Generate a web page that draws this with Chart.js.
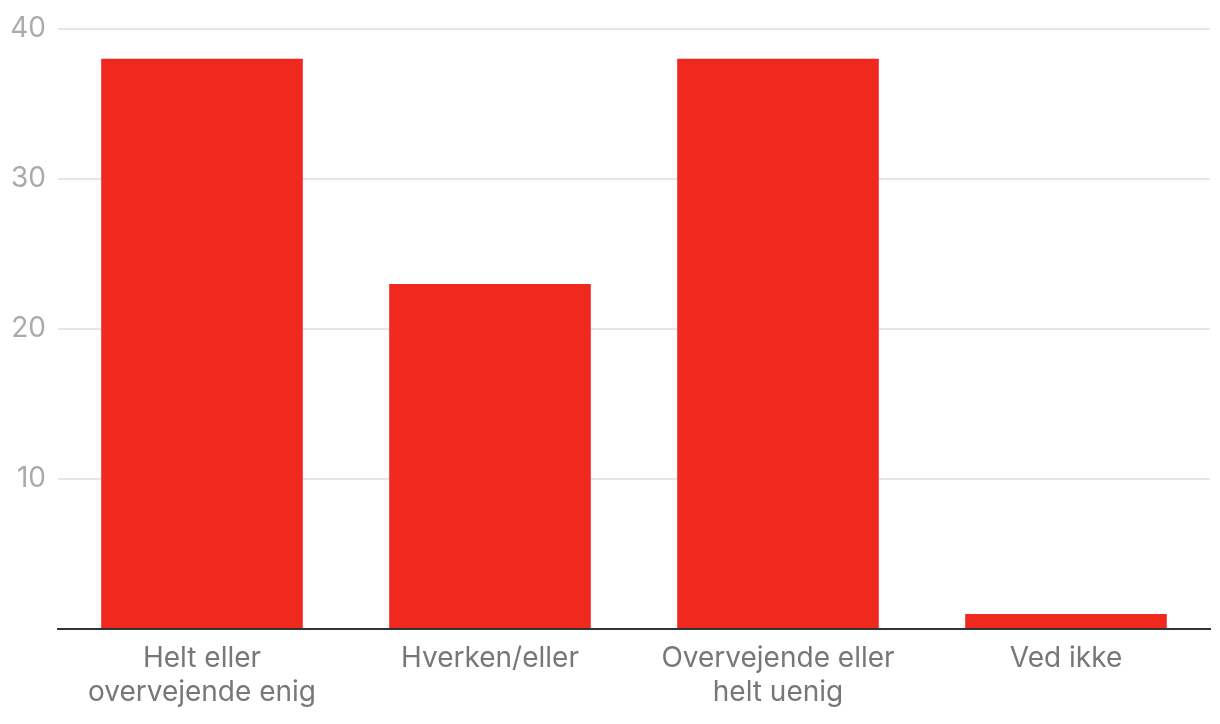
<!DOCTYPE html>
<html>
<head>
<meta charset="utf-8">
<script src="https://cdn.jsdelivr.net/npm/chart.js@4"></script>
<style>
  html, body { margin: 0; padding: 0; background: #fff; }
  #wrap { width: 1220px; height: 724px; }
</style>
</head>
<body>
<div id="wrap"><canvas id="chart" width="1220" height="724"></canvas></div>
<script>
// Categories and values
const categories = [
    ['Helt eller', 'overvejende enig'],
    'Hverken/eller',
    ['Overvejende eller', 'helt uenig'],
    'Ved ikke'
];
const shares = [38, 23, 38, 1];
const yTicks = [0, 10, 20, 30, 40];

const barColor = '#F0291F';

const ctx = document.getElementById('chart').getContext('2d');
new Chart(ctx, {
    type: 'bar',
    data: {
        labels: categories,
        datasets: [{
            data: shares,
            backgroundColor: barColor,
            barPercentage: 0.7,
            categoryPercentage: 1.0
        }]
    },
    options: {
        responsive: false,
        animation: false,
        layout: { padding: { top: 16, right: 10, bottom: 0, left: 0 } },
        plugins: { legend: { display: false }, tooltip: { enabled: false } },
        scales: {
            x: {
                grid: { display: false },
                border: { display: true, color: '#333333', width: 2 },
                ticks: {
                    color: '#777777',
                    font: { family: 'Inter', size: 28, lineHeight: 1.2 },
                    padding: 5,
                    maxRotation: 0
                },
                afterFit: scale => { scale.height = 95; }
            },
            y: {
                min: yTicks[0],
                max: yTicks[yTicks.length - 1],
                grid: { color: '#e6e6e6', lineWidth: 2, drawTicks: false },
                border: { display: false },
                ticks: {
                    stepSize: 10,
                    color: '#aaaaaa',
                    font: { family: 'Inter', size: 28 },
                    padding: 12,
                    callback: v => (v === 0 ? '' : v)
                },
                afterFit: scale => { scale.width = 58; }
            }
        }
    }
});
</script>
</body>
</html>
